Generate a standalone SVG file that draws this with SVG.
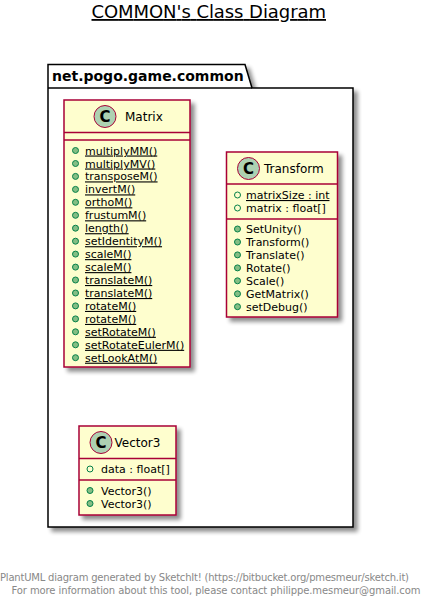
<svg xmlns="http://www.w3.org/2000/svg" width="424" height="611" viewBox="0 0 424 611">
<defs>
<filter id="sh" x="-20%" y="-20%" width="150%" height="150%">
<feGaussianBlur in="SourceAlpha" stdDeviation="2" result="b"/>
<feOffset in="b" dx="4" dy="4" result="o"/>
<feComponentTransfer in="o" result="o2"><feFuncA type="linear" slope="0.45"/></feComponentTransfer>
<feMerge><feMergeNode in="o2"/><feMergeNode in="SourceGraphic"/></feMerge>
</filter>
</defs>
<style>
text{font-family:"DejaVu Sans",Verdana,sans-serif;fill:#000}
.title{font-size:18px;text-decoration:underline}
.pkg{font-size:14px;font-weight:bold}
.cname{font-size:12px}
.m{font-size:11px}
.u{text-decoration:underline}
.box{fill:#FEFECE;stroke:#A80036;stroke-width:1.5}
.sep{stroke:#A80036;stroke-width:1.5}
.ci{fill:#ADD1B2;stroke:#A80036;stroke-width:1}
.cl{font-size:15px;font-weight:bold;text-anchor:middle}
.pm{fill:#84BE84;stroke:#038048;stroke-width:1}
.pa{fill:none;stroke:#038048;stroke-width:1}
.foot{font-size:10px;fill:#888888}
</style>
<rect width="424" height="611" fill="#FFFFFF"/>
<text class="title" x="91.5" y="18" textLength="234.5">COMMON's Class Diagram</text>

<g id="package_net.pogo.game.common">
<path d="M48,64.5 L245,64.5 L252,88 L353,88 L353,527 L48,527 Z" fill="#FFFFFF" stroke="#000000" stroke-width="1.5" filter="url(#sh)"/>
<line x1="48" y1="88" x2="252" y2="88" stroke="#000000" stroke-width="1.5"/>
<text class="pkg" x="52" y="81">net.pogo.game.common</text>
</g>

<g id="Matrix">
<rect class="box" x="64" y="100" width="126" height="267" filter="url(#sh)"/>
<line class="sep" x1="64" y1="132.5" x2="190" y2="132.5"/>
<line class="sep" x1="64" y1="140" x2="190" y2="140"/>
<circle class="ci" cx="105" cy="116.5" r="11"/>
<text class="cl" x="105" y="122">C</text>
<text class="cname" x="125" y="121">Matrix</text>
<g class="m">
<circle class="pm" cx="75.5" cy="150.5" r="3"/><text class="m u" x="85" y="154.5">multiplyMM()</text>
<circle class="pm" cx="75.5" cy="163.5" r="3"/><text class="m u" x="85" y="167.5">multiplyMV()</text>
<circle class="pm" cx="75.5" cy="176.4" r="3"/><text class="m u" x="85" y="180.4">transposeM()</text>
<circle class="pm" cx="75.5" cy="189.4" r="3"/><text class="m u" x="85" y="193.4">invertM()</text>
<circle class="pm" cx="75.5" cy="202.3" r="3"/><text class="m u" x="85" y="206.3">orthoM()</text>
<circle class="pm" cx="75.5" cy="215.3" r="3"/><text class="m u" x="85" y="219.3">frustumM()</text>
<circle class="pm" cx="75.5" cy="228.2" r="3"/><text class="m u" x="85" y="232.2">length()</text>
<circle class="pm" cx="75.5" cy="241.2" r="3"/><text class="m u" x="85" y="245.2">setIdentityM()</text>
<circle class="pm" cx="75.5" cy="254.1" r="3"/><text class="m u" x="85" y="258.1">scaleM()</text>
<circle class="pm" cx="75.5" cy="267.1" r="3"/><text class="m u" x="85" y="271.1">scaleM()</text>
<circle class="pm" cx="75.5" cy="280" r="3"/><text class="m u" x="85" y="284">translateM()</text>
<circle class="pm" cx="75.5" cy="293" r="3"/><text class="m u" x="85" y="297">translateM()</text>
<circle class="pm" cx="75.5" cy="305.9" r="3"/><text class="m u" x="85" y="309.9">rotateM()</text>
<circle class="pm" cx="75.5" cy="318.9" r="3"/><text class="m u" x="85" y="322.9">rotateM()</text>
<circle class="pm" cx="75.5" cy="331.8" r="3"/><text class="m u" x="85" y="335.8">setRotateM()</text>
<circle class="pm" cx="75.5" cy="344.8" r="3"/><text class="m u" x="85" y="348.8">setRotateEulerM()</text>
<circle class="pm" cx="75.5" cy="357.7" r="3"/><text class="m u" x="85" y="361.7">setLookAtM()</text>
</g>
</g>

<g id="Transform">
<rect class="box" x="226.5" y="152" width="111" height="165" filter="url(#sh)"/>
<line class="sep" x1="226.5" y1="184" x2="337.5" y2="184"/>
<line class="sep" x1="226.5" y1="219" x2="337.5" y2="219"/>
<circle class="ci" cx="248.5" cy="168.5" r="11"/>
<text class="cl" x="248.5" y="174">C</text>
<text class="cname" x="264" y="173">Transform</text>
<circle class="pa" cx="237.5" cy="195" r="3"/><text class="m u" x="246" y="199">matrixSize : int</text>
<circle class="pa" cx="237.5" cy="208" r="3"/><text class="m" x="246" y="212">matrix : float[]</text>
<circle class="pm" cx="237.5" cy="229" r="3"/><text class="m" x="246" y="233">SetUnity()</text>
<circle class="pm" cx="237.5" cy="242" r="3"/><text class="m" x="246" y="246">Transform()</text>
<circle class="pm" cx="237.5" cy="254.9" r="3"/><text class="m" x="246" y="258.9">Translate()</text>
<circle class="pm" cx="237.5" cy="267.9" r="3"/><text class="m" x="246" y="271.9">Rotate()</text>
<circle class="pm" cx="237.5" cy="280.8" r="3"/><text class="m" x="246" y="284.8">Scale()</text>
<circle class="pm" cx="237.5" cy="293.8" r="3"/><text class="m" x="246" y="297.8">GetMatrix()</text>
<circle class="pm" cx="237.5" cy="306.7" r="3"/><text class="m" x="246" y="310.7">setDebug()</text>
</g>

<g id="Vector3">
<rect class="box" x="79" y="426" width="97" height="89" filter="url(#sh)"/>
<line class="sep" x1="79" y1="458.5" x2="176" y2="458.5"/>
<line class="sep" x1="79" y1="480" x2="176" y2="480"/>
<circle class="ci" cx="101" cy="442.5" r="11"/>
<text class="cl" x="101" y="448">C</text>
<text class="cname" x="114.5" y="447">Vector3</text>
<circle class="pa" cx="90" cy="469" r="3"/><text class="m" x="101" y="473">data : float[]</text>
<circle class="pm" cx="90" cy="490.5" r="3"/><text class="m" x="101" y="494.5">Vector3()</text>
<circle class="pm" cx="90" cy="503.5" r="3"/><text class="m" x="101" y="507.5">Vector3()</text>
</g>

<g id="connectors"></g>

<text class="foot" x="0" y="580.5" textLength="409">PlantUML diagram generated by SketchIt! (https://bitbucket.org/pmesmeur/sketch.it)</text>
<text class="foot" x="11.5" y="593.5" textLength="409">For more information about this tool, please contact philippe.mesmeur@gmail.com</text>
</svg>
